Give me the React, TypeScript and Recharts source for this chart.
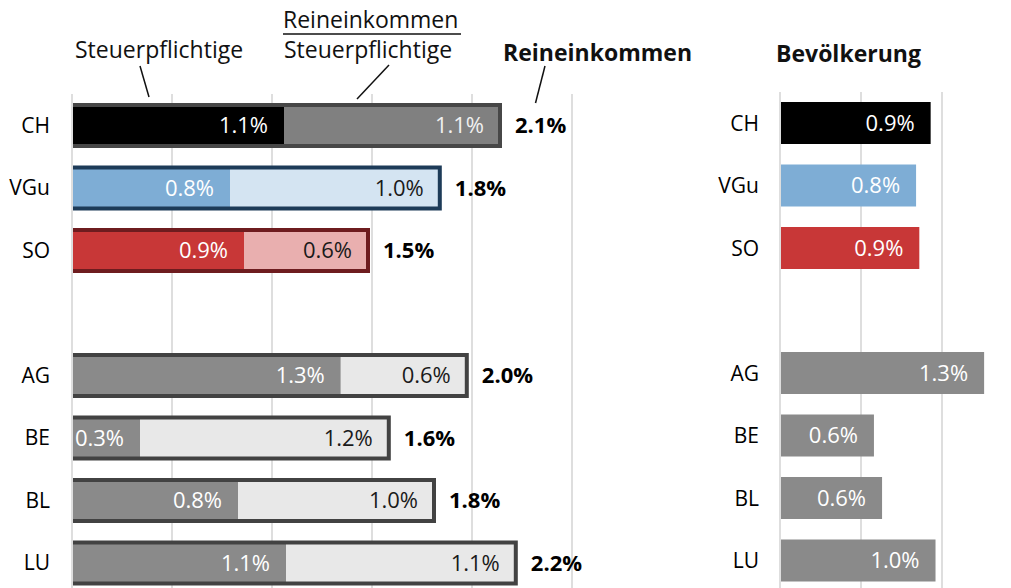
import React from 'react';
import { BarChart, Bar, XAxis, YAxis, CartesianGrid, LabelList, Cell } from 'recharts';

// growth per year, in percent
const categories = ['CH', 'VGu', 'SO', '', 'AG', 'BE', 'BL', 'LU'];
const steuerpflichtige = [1.06, 0.79, 0.86, null, 1.344, 0.34, 0.83, 1.07];
const einkommenProSteuerpflichtige = [1.08, 1.049, 0.62, null, 0.63, 1.244, 0.98, 1.149];
const reineinkommen = [2.14, 1.84, 1.48, null, 1.97, 1.58, 1.81, 2.22];
const bevoelkerung = [0.93, 0.84, 0.86, null, 1.26, 0.58, 0.63, 0.96];
const leftTicks = [0, 0.5, 1, 1.5, 2, 2.5];
const rightTicks = [0, 0.5, 1, 1.5];

const FONT = '"Open Sans", "Noto Sans", sans-serif';

type RowStyle = { main: string; light: string; border: string; lightText: string };
const grey: RowStyle = { main: '#8a8a8a', light: '#e8e8e8', border: '#424242', lightText: '#1a1a1a' };
const special: Record<string, RowStyle> = {
  CH: { main: '#000000', light: '#808080', border: '#474747', lightText: '#f0f0f0' },
  VGu: { main: '#7eadd5', light: '#d4e4f2', border: '#1d3b58', lightText: '#1a1a1a' },
  SO: { main: '#c83737', light: '#e9afaf', border: '#6e1c1f', lightText: '#1a1a1a' },
};
const styleFor = (name: string) => special[name] || grey;

const rows = categories.map((name, i) => {
  const a = steuerpflichtige[i];
  const b = einkommenProSteuerpflichtige[i];
  return {
    name,
    steuer: a,
    proKopf: b,
    outline: a == null || b == null ? null : a + b,
    total: reineinkommen[i],
    bev: bevoelkerung[i],
  };
});

const fmt = (v: any) => (v == null ? '' : `${Number(v).toFixed(1)}%`);

const insideLabel = (pick: (s: RowStyle) => string) => (props: any) => {
  const { x, y, width, height, value, index } = props;
  if (value == null || width == null) return null;
  const st = styleFor(categories[index] ?? '');
  return (
    <text
      x={x + width - 16}
      y={y + height / 2}
      dy="0.36em"
      textAnchor="end"
      fontSize={22}
      fontFamily={FONT}
      fill={pick(st)}
    >
      {fmt(value)}
    </text>
  );
};

const outlineShape = (props: any) => {
  const { x, y, width, height, payload } = props;
  if (!payload || payload.outline == null || !width) return <g />;
  const st = styleFor(payload.name);
  return (
    <path
      d={`M${x},${y}H${x + width}V${y + height}H${x}`}
      fill="none"
      stroke={st.border}
      strokeWidth={4}
    />
  );
};

const tickStyle = { fontSize: 21, fill: '#000', fontFamily: FONT };

const App: React.FC = () => {
  return (
    <div
      style={{
        position: 'absolute',
        top: 0,
        left: 0,
        width: 1011,
        height: 588,
        overflow: 'hidden',
        background: '#fff',
        fontFamily: FONT,
      }}
    >
      <div style={{ position: 'absolute', left: 0, top: 0 }}>
        <BarChart
          width={700}
          height={594}
          data={rows}
          layout="vertical"
          barSize={41}
          barGap={-41}
          margin={{ top: 94, right: 128, bottom: 0, left: 0 }}
        >
          <CartesianGrid horizontal={false} stroke="#dedede" strokeWidth={2} />
          <XAxis type="number" domain={[0, 2.5]} ticks={leftTicks} hide />
          <YAxis
            type="category"
            dataKey="name"
            width={72}
            tickLine={false}
            tickMargin={16}
            axisLine={{ stroke: '#dedede', strokeWidth: 2 }}
            tick={tickStyle}
            interval={0}
          />
          <Bar dataKey="steuer" stackId="a" isAnimationActive={false}>
            {rows.map((r) => (
              <Cell key={r.name} fill={styleFor(r.name).main} />
            ))}
            <LabelList dataKey="steuer" content={insideLabel(() => '#ffffff')} />
          </Bar>
          <Bar dataKey="proKopf" stackId="a" isAnimationActive={false}>
            {rows.map((r) => (
              <Cell key={r.name} fill={styleFor(r.name).light} />
            ))}
            <LabelList dataKey="proKopf" content={insideLabel((s) => s.lightText)} />
          </Bar>
          <Bar dataKey="outline" isAnimationActive={false} shape={outlineShape}>
            <LabelList
              dataKey="total"
              position="right"
              offset={15}
              formatter={fmt}
              fill="#000"
              fontSize={22}
              fontWeight={700}
              fontFamily={FONT}
            />
          </Bar>
        </BarChart>
      </div>

      <div style={{ position: 'absolute', left: 700, top: 0 }}>
        <BarChart
          width={333}
          height={592}
          data={rows}
          layout="vertical"
          barSize={42}
          margin={{ top: 92, right: 10, bottom: 0, left: 0 }}
        >
          <CartesianGrid horizontal={false} stroke="#dedede" strokeWidth={2} />
          <XAxis type="number" domain={[0, 1.5]} ticks={rightTicks} hide />
          <YAxis
            type="category"
            dataKey="name"
            width={80}
            tickLine={false}
            tickMargin={15}
            axisLine={{ stroke: '#dedede', strokeWidth: 2 }}
            tick={tickStyle}
            interval={0}
          />
          <Bar dataKey="bev" isAnimationActive={false}>
            {rows.map((r) => (
              <Cell key={r.name} fill={styleFor(r.name).main} />
            ))}
            <LabelList dataKey="bev" content={insideLabel(() => '#ffffff')} />
          </Bar>
        </BarChart>
      </div>

      <svg
        width={1011}
        height={110}
        style={{ position: 'absolute', left: 0, top: 0, pointerEvents: 'none' }}
      >
        <g fontFamily={FONT} fontSize={23} fill="#111">
          <text x={75} y={57.5}>Steuerpflichtige</text>
          <text x={283} y={27.5}>Reineinkommen</text>
          <line x1={283} x2={461} y1={34} y2={34} stroke="#111" strokeWidth={1.5} />
          <text x={284} y={57.5}>Steuerpflichtige</text>
          <text x={503} y={60.5} fontWeight={700}>Reineinkommen</text>
          <text x={776} y={61.5} fontWeight={700}>Bevölkerung</text>
        </g>
        <g stroke="#111" strokeWidth={1.5}>
          <line x1={140} y1={66} x2={149} y2={97} />
          <line x1={389} y1={65} x2={357} y2={99} />
          <line x1={545} y1={66} x2={535.5} y2={103} />
        </g>
      </svg>
    </div>
  );
};

export default App;
